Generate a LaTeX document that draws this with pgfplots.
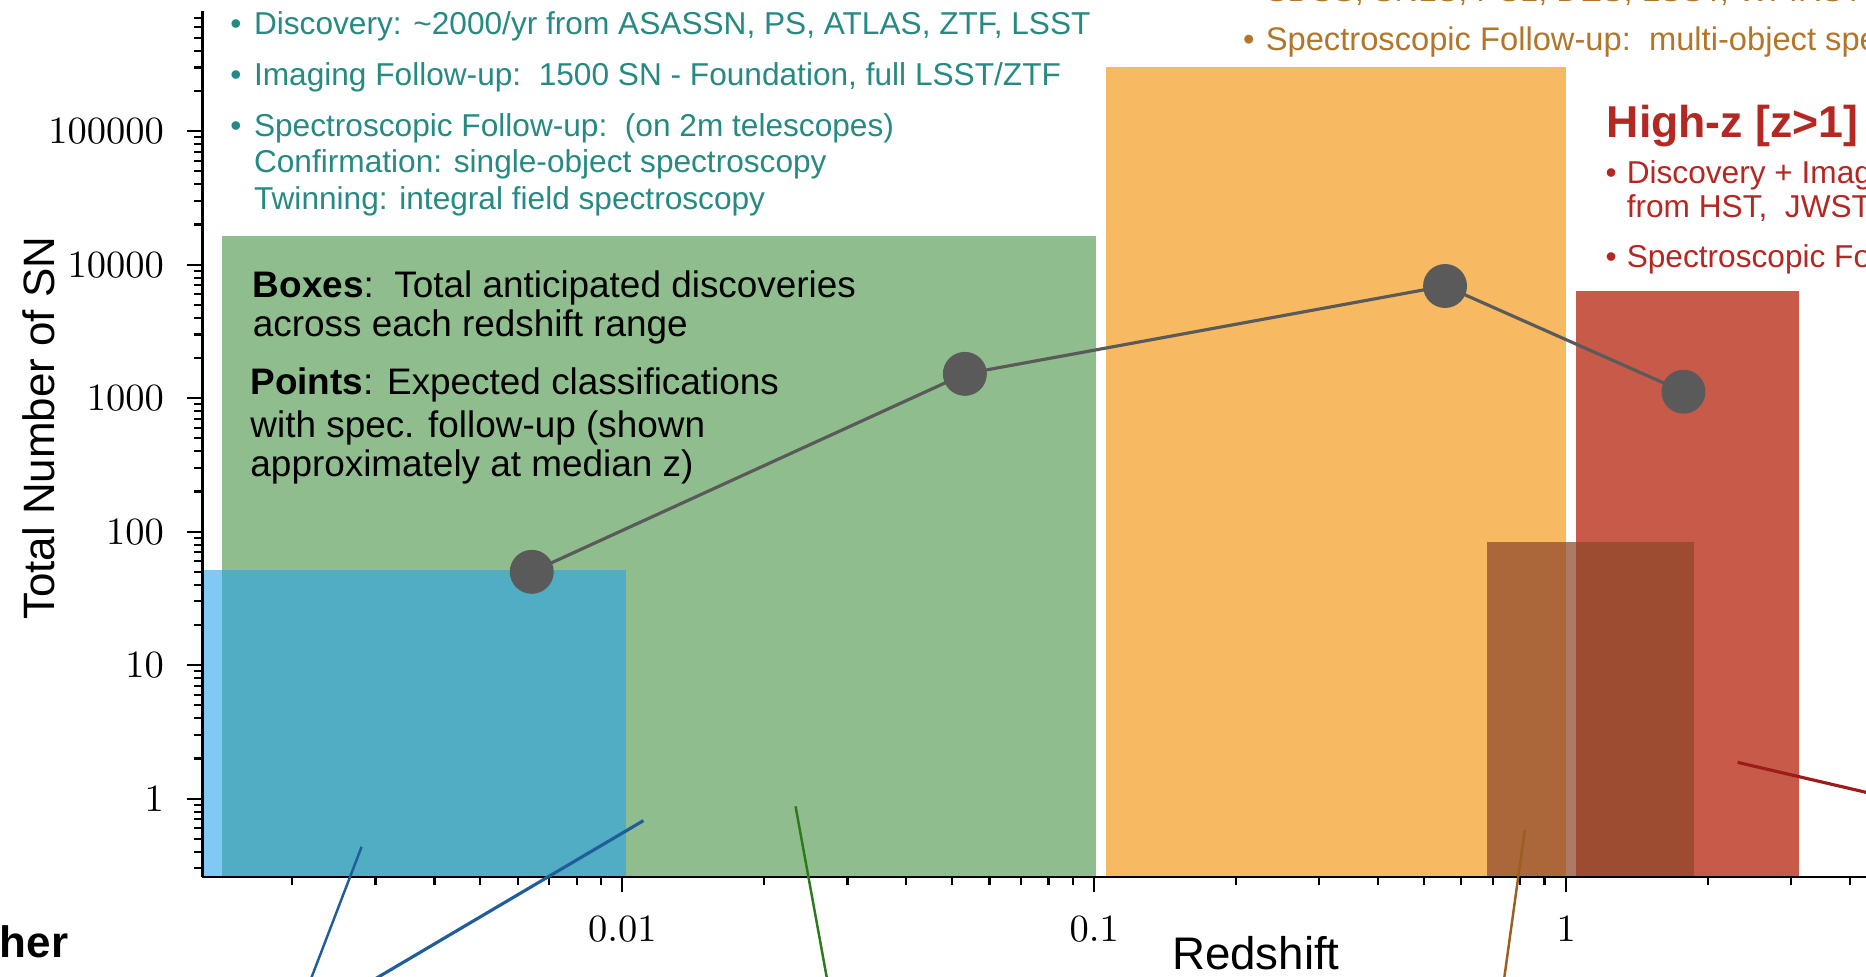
\documentclass[border=0pt]{standalone}
\usepackage{fontspec}
\setmainfont{Liberation Sans}
\usepackage{pgfplots}
\pgfplotsset{compat=1.18}

\definecolor{boxblue}{RGB}{36,162,236}
\definecolor{boxgreen}{RGB}{143,189,141}
\definecolor{boxorange}{RGB}{247,186,99}
\definecolor{boxred}{RGB}{199,90,72}
\definecolor{boxbrown}{RGB}{142,71,42}
\definecolor{ptgray}{RGB}{90,90,90}
\definecolor{tealtext}{RGB}{38,138,130}
\definecolor{orangetext}{RGB}{178,118,42}
\definecolor{redtext}{RGB}{180,40,35}
\definecolor{lineblue}{RGB}{31,94,154}
\definecolor{linegreen}{RGB}{45,122,28}
\definecolor{linebrown}{RGB}{154,95,32}
\definecolor{linered}{RGB}{158,27,27}

\begin{document}
\begin{tikzpicture}
\begin{scope}
\clip (0,0) rectangle (18.66,9.76);

\begin{axis}[
  at={(2.023cm,0.99cm)}, anchor=south west,
  scale only axis, width=21.08cm, height=8.664cm,
  xmode=log, ymode=log,
  xmin=0.0012882, xmax=37.76, ymin=0.2588, ymax=800000,
  axis x line*=bottom, axis y line*=left,
  axis line style={line width=0.8pt, black},
  axis on top,
  tick align=outside,
  major tick length=0.15cm, minor tick length=0.08cm,
  tick style={black, line width=0.6pt},
  xtick={0.001,0.01,0.1,1,10},
  xticklabels={$0.001$,$0.01$,$0.1$,$1$,$10$},
  minor xtick={0.002,0.003,0.004,0.005,0.006,0.007,0.008,0.009,
               0.02,0.03,0.04,0.05,0.06,0.07,0.08,0.09,
               0.2,0.3,0.4,0.5,0.6,0.7,0.8,0.9,
               2,3,4,5,6,7,8,9,20,30},
  ytick={1,10,100,1000,10000,100000},
  yticklabels={$1$,$10$,$100$,$1000$,$10000$,$100000$},
  minor ytick={0.3,0.4,0.5,0.6,0.7,0.8,0.9,
               2,3,4,5,6,7,8,9,20,30,40,50,60,70,80,90,
               200,300,400,500,600,700,800,900,
               2000,3000,4000,5000,6000,7000,8000,9000,
               20000,30000,40000,50000,60000,70000,80000,90000,
               200000,300000,400000,500000,600000,700000},
  ticklabel style={font=\fontsize{10.6}{12}\selectfont},
  xticklabel style={yshift=-0.12cm},
  yticklabel style={xshift=-0.11cm},
]
% anticipated discoveries per redshift range (boxes)
\addplot[draw=none, fill=boxgreen] coordinates
  {(0.001416,0.1) (0.001416,16370) (0.1009,16370) (0.1009,0.1)} --cycle;
\addplot[draw=none, fill=boxblue, fill opacity=0.58] coordinates
  {(0.001,0.1) (0.001,52) (0.0102,52) (0.0102,0.1)} --cycle;
\addplot[draw=none, fill=boxorange] coordinates
  {(0.1057,0.1) (0.1057,303600) (1.0,303600) (1.0,0.1)} --cycle;
\addplot[draw=none, fill=boxred] coordinates
  {(1.048,0.1) (1.048,6343) (3.117,6343) (3.117,0.1)} --cycle;
\addplot[draw=none, fill=boxbrown, fill opacity=0.72] coordinates
  {(0.681,0.1) (0.681,84) (1.862,84) (1.862,0.1)} --cycle;
% expected spectroscopic classifications at median z
\addplot[color=ptgray, line width=0.9pt, mark=*, mark size=5.8pt,
  mark options={fill=ptgray, draw=none}] coordinates
  {(0.00643,50) (0.0532,1520) (0.554,6920) (1.773,1117)};
\end{axis}

\begin{scope}[x=0.01cm, y=-0.01cm, yshift=9.76cm]
% axis titles
\node[rotate=90, anchor=base, inner sep=0, font=\fontsize{12.5}{15}\selectfont]
  at (55,428.5) {Total Number of SN};
\node[anchor=base west, inner sep=0, font=\fontsize{13}{15}\selectfont]
  at (1172,970) {Redshift};
\node[anchor=base east, inner sep=0, font=\fontsize{12.5}{15}\selectfont\bfseries]
  at (69,958) {Other};

% low-z notes
\begin{scope}[every node/.style={anchor=base west, inner sep=0, text=tealtext,
  font=\fontsize{9}{11}\selectfont}]
\node at (229.7,34.5) {\textbullet};
\node at (253.5,34.5) {Discovery: \textasciitilde2000/yr from ASASSN, PS, ATLAS, ZTF, LSST};
\node at (229.7,85.7) {\textbullet};
\node at (253.5,85.7) {Imaging Follow-up:\ \ 1500 SN - Foundation, full LSST/ZTF};
\node at (229.7,136.9) {\textbullet};
\node at (253.5,136.9) {Spectroscopic Follow-up:\ \ (on 2m telescopes)};
\node at (253.5,172.6) {Confirmation: single-object spectroscopy};
\node at (253.5,209.4) {Twinning: integral field spectroscopy};
\end{scope}

% intermediate-z notes
\begin{scope}[every node/.style={anchor=base west, inner sep=0, text=orangetext,
  font=\fontsize{9.3}{11}\selectfont}]
\node at (1265.8,2) {SDSS, SNLS, PS1, DES, LSST, WFIRST};
\node at (1243,51) {\textbullet};
\node at (1265.8,51) {Spectroscopic Follow-up:\ \ multi-object spectroscopy};
\end{scope}

% high-z notes
\node[anchor=base west, inner sep=0, text=redtext, font=\fontsize{12.7}{15}\selectfont\bfseries]
  at (1607,138) {High-z [z>1]};
\begin{scope}[every node/.style={anchor=base west, inner sep=0, text=redtext,
  font=\fontsize{9}{11}\selectfont}]
\node at (1605.7,184) {\textbullet};
\node at (1627,184) {Discovery + Imaging Follow-up};
\node at (1627,218) {from HST,\ \ JWST, WFIRST};
\node at (1605.7,268) {\textbullet};
\node at (1627,268) {Spectroscopic Follow-up};
\end{scope}

% key
\begin{scope}[every node/.style={anchor=base west, inner sep=0,
  font=\fontsize{10.5}{12}\selectfont}]
\node at (252.3,297.5) {\textbf{Boxes}:\ \ Total anticipated discoveries};
\node at (252.3,336.8) {across each redshift range};
\node at (249.9,395.1) {\textbf{Points}: Expected classifications};
\node at (249.9,437.9) {with spec. follow-up (shown};
\node at (249.9,477.2) {approximately at median z)};
\end{scope}

% pointer lines to the survey panels below
\draw[lineblue, line width=0.7pt] (361.8,847.3) -- (309,985);
\draw[lineblue, line width=0.9pt] (643.8,821.1) -- (366,985);
\draw[linegreen, line width=0.7pt] (796,806.8) -- (828.5,985);
\draw[linebrown, line width=0.7pt] (1525.6,830.6) -- (1504.2,985);
\draw[linered, line width=0.9pt] (1738.6,762.8) -- (1880,795.8);
\end{scope}
\end{scope}

\pgfresetboundingbox
\path[use as bounding box] (0,0) rectangle (18.66,9.76);
\end{tikzpicture}
\end{document}
